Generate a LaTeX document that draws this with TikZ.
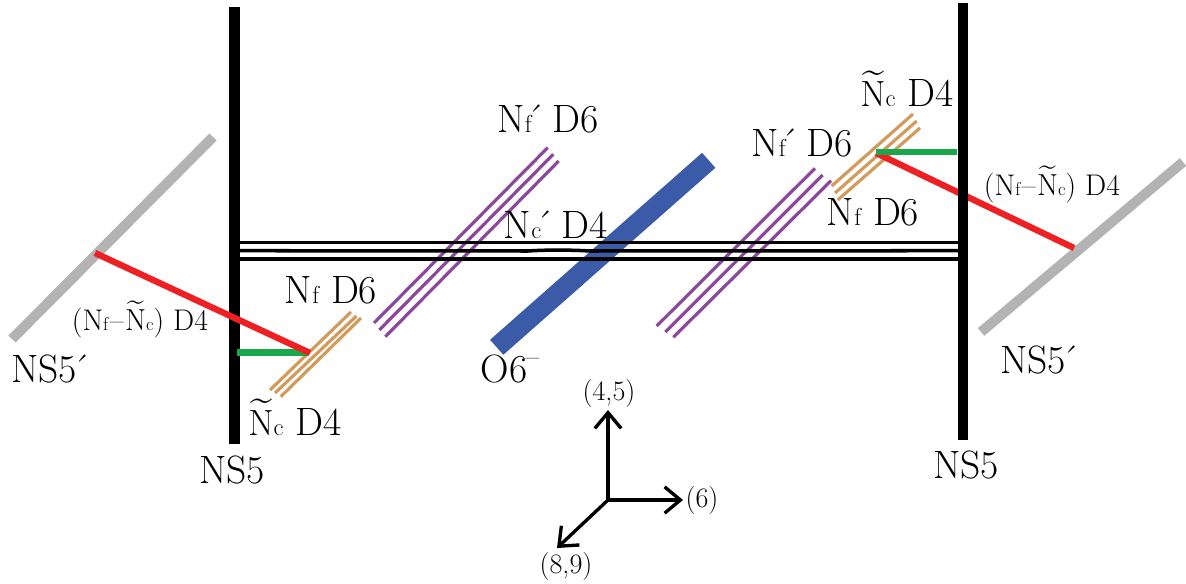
\documentclass[tikz,border=0pt]{standalone}
\usepackage{amsmath}
\usepackage{amssymb}
\usepackage{tikz}
\usetikzlibrary{arrows.meta,positioning}
\usepackage{xcolor}
\definecolor{nsgrey}{RGB}{179,179,179}
\definecolor{dfourred}{RGB}{237,32,36}
\definecolor{dfourgreen}{RGB}{26,166,74}
\definecolor{dfourtan}{RGB}{210,155,91}
\definecolor{dsixpurple}{RGB}{139,71,155}
\definecolor{oplaneblue}{RGB}{59,91,169}
\tikzstyle{nsfive} = [line width=5.7pt,color=black]
\tikzstyle{nsprime} = [line width=5.7pt,color=nsgrey]
\tikzstyle{oplane} = [line width=11.4pt,color=oplaneblue]
\tikzstyle{colorD} = [line width=2pt,color=black]
\tikzstyle{flavorD} = [line width=1.8pt,color=dsixpurple]
\tikzstyle{dualD} = [line width=1.8pt,color=dfourtan]
\tikzstyle{redD} = [line width=3.6pt,color=dfourred]
\tikzstyle{greenD} = [line width=3.6pt,color=dfourgreen]
\tikzstyle{axis} = [line width=1.9pt,-{Straight Barb[length=9pt,width=15pt,line width=1.9pt]}]
\tikzstyle{biglabel} = [anchor=base,inner sep=0pt,font=\fontsize{22.5}{26}\selectfont]
\tikzstyle{midlabel} = [anchor=base,inner sep=0pt,font=\fontsize{17}{20}\selectfont]
\tikzstyle{axislabel} = [anchor=base,inner sep=0pt,font=\fontsize{16}{19}\selectfont]
\newcommand{\smalltxt}[1]{\scalebox{0.62}{#1}}
\newcommand{\Nf}{N\smalltxt{f}}
\newcommand{\Nc}{N\smalltxt{c}}
\newcommand{\Ntc}{$\widetilde{\mathrm{N}}$\smalltxt{c}}
\newcommand{\upminus}{\kern-0.05em\raisebox{0.38em}{\scalebox{0.75}{--}}}
\newcommand{\tick}{\kern-0.14em´\kern-0.1em}
\newcommand{\dash}{\kern0.05em--\kern0.05em}

\begin{document}
\begin{tikzpicture}[x=0.02cm,y=-0.02cm]
\useasboundingbox (0,0) rectangle (1186,584);

% Grey branes
\draw[nsprime] (213,137) -- (12,339);
\draw[nsprime] (1183,162) -- (981,332);

% O6 plane
\draw[oplane] (708.7,160.3) -- (496.7,347.3);

% Left D6
\draw[flavorD] (374,323) -- (547.7,147.7);
\draw[flavorD] (379.3,330) -- (553.3,154.3);
\draw[flavorD] (385.3,336.7) -- (558.7,161);

% Right D6
\draw[flavorD] (656.7,326) -- (815,168.3);
\draw[flavorD] (665.3,332) -- (822.7,175);
\draw[flavorD] (673.3,337.3) -- (831,180.7);

% Dual D4
\draw[dualD] (270,390) -- (351,312);
\draw[dualD] (275,393) -- (356.5,316);
\draw[dualD] (280.7,396.7) -- (361,318);
\draw[dualD] (831.7,186) -- (913,114);
\draw[dualD] (835,193) -- (916.7,121);
\draw[dualD] (837.7,200) -- (920,128);

% D4 stretched between the NS5
\coordinate (colorAl) at (234,242.7);
\coordinate (colorAr) at (960,242.7);
\coordinate (colorBl) at (234,250.7);
\coordinate (colorBr) at (960,250.7);
\coordinate (colorCl) at (234,259);
\coordinate (colorCr) at (960,259);
\draw[colorD] (colorAl) -- (colorAr);
\draw[colorD] (colorBl) -- (528,251) .. controls (545,249.8) and (570,249.8) .. (590,251) -- (colorBr);
\draw[colorD] (colorCl) -- (colorCr);

% Red and green D4
\coordinate (redLa) at (95,253);
\coordinate (redLb) at (310,353);
\coordinate (redRa) at (876,153);
\coordinate (redRb) at (1074,248);
\coordinate (greenLa) at (237,352.5);
\coordinate (greenLb) at (308,352.5);
\coordinate (greenRa) at (876,152);
\coordinate (greenRb) at (957,152);
\draw[redD] (redRa) -- (redRb);

% NS5
\draw[nsfive] (234.5,7) -- (234.5,444);
\draw[nsfive] (963,3) -- (963,440);

\draw[greenD] (greenLa) -- (greenLb);
\draw[redD] (redLa) -- (redLb);
\draw[greenD] (greenRa) -- (greenRb);

% Axes
\coordinate (origin) at (608,500);
\coordinate (axisUp) at (608,410);
\coordinate (axisRight) at (683,500);
\coordinate (axisDown) at (557,548);
\draw[axis] (origin) -- (axisUp);
\draw[axis] (origin) -- (axisRight);
\draw[axis] (origin) -- (axisDown);

% Labels
\node (nsprimeL) [biglabel] at (51,382) {NS5\kern-0.1em´};
\node (nsprimeR) [biglabel] at (1040,373) {NS5\kern-0.1em´};
\node (nsL) [biglabel] at (232,483) {NS5};
\node (nsR) [biglabel] at (966,478) {NS5};
\node (nfL) [biglabel] at (331,303) {\Nf{} D6};
\node (ntcL) [biglabel] at (295,435) {\Ntc{} D4};
\node (nfpL) [biglabel] at (548,133) {\Nf\tick{} D6};
\node (ncp) [biglabel] at (556,238) {\Nc\tick{} D4};
\node (osix) [biglabel] at (510,382) {O6\upminus};
\node (nfpR) [biglabel] at (802,157) {\Nf\tick{} D6};
\node (ntcR) [biglabel] at (907,107) {\Ntc{} D4};
\node (nfR) [biglabel] at (873,226) {\Nf{} D6};
\node (diffL) [midlabel] at (140,330) {(\Nf\dash\Ntc) D4};
\node (diffR) [midlabel] at (1052,195) {(\Nf\dash\Ntc) D4};
\node (lblUp) [axislabel] at (609,400) {(4,5)};
\node (lblRight) [axislabel] at (702,507) {(6)};
\node (lblDown) [axislabel] at (566,573) {(8,9)};
\end{tikzpicture}
\end{document}
